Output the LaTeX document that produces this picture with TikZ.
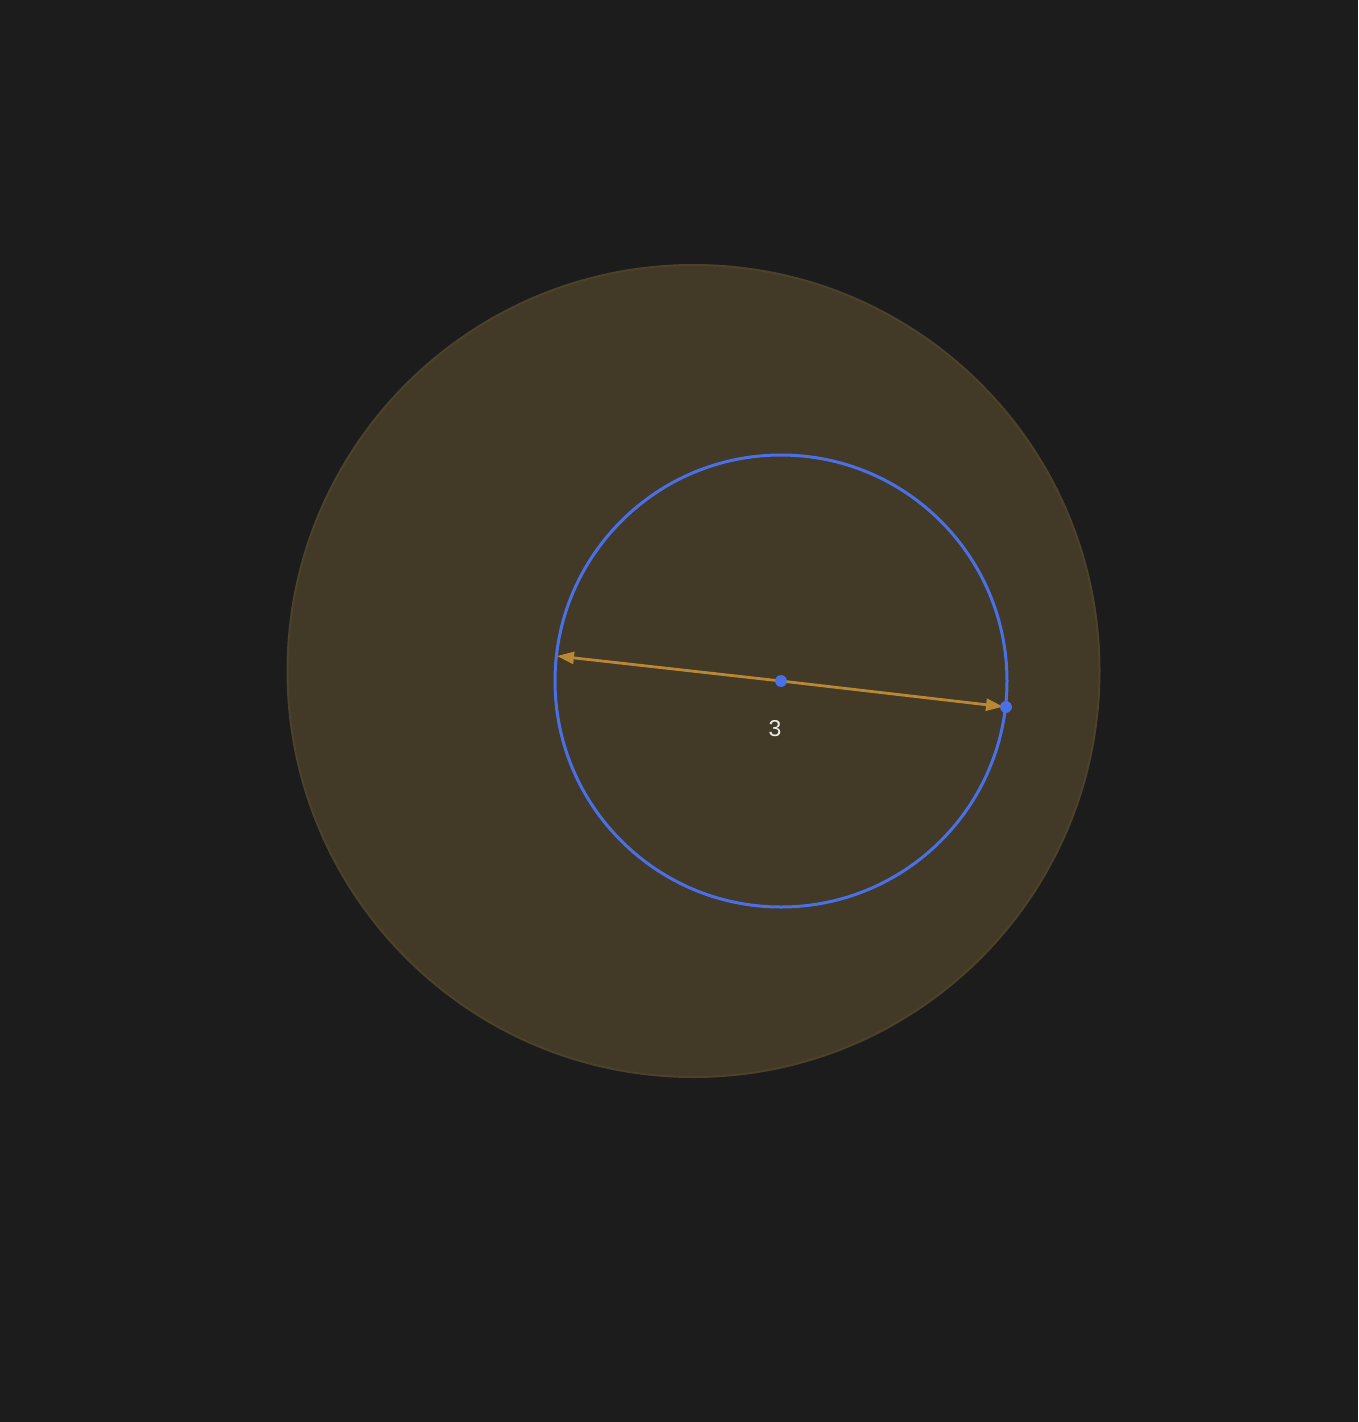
\documentclass[tikz,border=0pt]{standalone}
\usepackage{fontspec}
\setmainfont{Liberation Sans}
\usetikzlibrary{arrows.meta}
\definecolor{bg}{RGB}{28,28,28}
\definecolor{bigfill}{RGB}{66,57,39}
\definecolor{bigedge}{RGB}{76,66,43}
\definecolor{blueline}{RGB}{74,112,230}
\definecolor{gold}{RGB}{184,136,52}
\tikzset{
  dotpt/.style={circle,fill=blueline,inner sep=0pt,minimum size=11.5pt},
  arr/.style={draw=gold,line width=2.8pt,-{Triangle[length=17pt,width=12pt]}},
  lbl/.style={text=white!92!black,font=\fontsize{23}{26}\selectfont}
}
\begin{document}
\begin{tikzpicture}[x=1pt,y=-1pt]
\useasboundingbox[fill=bg] (0,0) rectangle (1358,1422);
\fill[bigfill,draw=bigedge,line width=2pt] (693.5,671) circle (406);
\draw[blueline,line width=3pt] (781,681) circle (226);
\coordinate (L) at (557,656);
\node[dotpt] (C) at (781,681) {};
\node[dotpt] (R) at (1006,707) {};
\draw[arr] (C.center) -- (L);
\draw[arr,shorten >=3pt] (C.center) -- (R.center);
\node[dotpt] at (781,681) {};
\node[dotpt] at (1006,707) {};
\node[lbl] (T) at (775,729) {3};
\end{tikzpicture}
\end{document}
